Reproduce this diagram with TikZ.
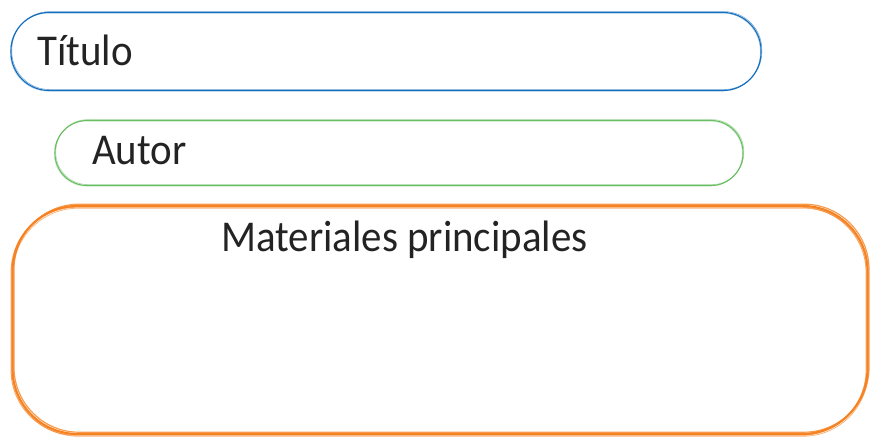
\documentclass[tikz,border=0pt]{standalone}
\usepackage{fontspec}
\setmainfont{Carlito}[FakeStretch=0.93]
\definecolor{sblue}{RGB}{20,110,190}
\definecolor{sgreen}{RGB}{105,190,100}
\definecolor{sorange}{RGB}{245,130,35}
\definecolor{ink}{RGB}{35,35,35}
\begin{document}
\begin{tikzpicture}[x=1pt,y=-1pt,
  sbox/.style={rectangle,inner sep=0pt,draw=#1,line width=1.1pt,
    postaction={draw=#1,line width=0.6pt,opacity=0.6,transform canvas={shift={(0.8pt,0.9pt)}}},
    postaction={draw=#1,line width=0.5pt,opacity=0.4,transform canvas={shift={(-0.7pt,-0.6pt)}}}},
  obox/.style={rectangle,inner sep=0pt,draw=sorange,line width=2.2pt,
    postaction={draw=sorange,line width=1.2pt,opacity=0.8,transform canvas={shift={(1.5pt,1.8pt)}}},
    postaction={draw=sorange,line width=1pt,opacity=0.7,transform canvas={shift={(-1.4pt,-1.2pt)}}},
    postaction={draw=sorange,line width=0.8pt,opacity=0.6,transform canvas={shift={(0.6pt,-2.2pt)}}}},
  lbl/.style={anchor=base west,inner sep=0pt,text=ink,font=\fontsize{44}{50}\selectfont}]
\useasboundingbox (0,0) rectangle (870,438);
\node[sbox=sblue,minimum width=750pt,minimum height=78pt,rounded corners=38pt] (titulo) at (386,51.5) {};
\node[sbox=sgreen,minimum width=688pt,minimum height=65pt,rounded corners=32pt] (autor) at (399,153) {};
\node[obox,minimum width=855pt,minimum height=228pt,rounded corners=65pt] (materiales) at (440,320) {};
\node[lbl] (ttitulo) at (37,66) {Título};
\node[lbl] (tautor) at (92,165) {Autor};
\node[lbl] (tmateriales) at (221,252) {Materiales principales};
\end{tikzpicture}
\end{document}
